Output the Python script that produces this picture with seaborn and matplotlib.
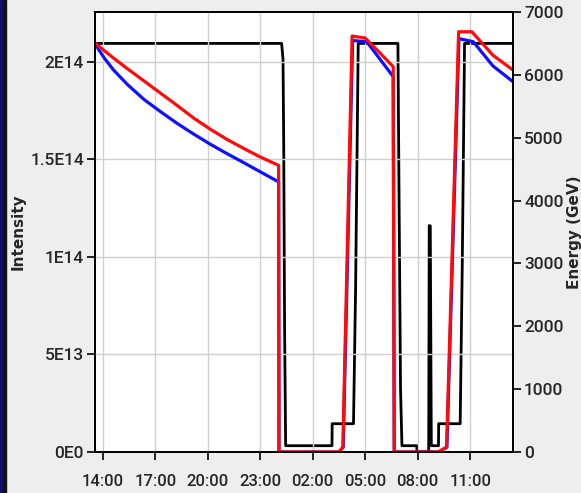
import numpy as np
import matplotlib
matplotlib.use("Agg")
import matplotlib.pyplot as plt
import seaborn as sns
from matplotlib.patches import Rectangle

# time axis in hours counted from midnight of the first day (24 -> 00:00 next day)
energy_time = [13.55, 24.22, 24.30, 24.34, 24.39, 24.45, 27.10, 27.11, 28.33, 28.45, 28.60,
               30.87, 30.95, 31.02, 31.10, 31.95, 31.96, 32.63, 32.66, 32.72, 32.78,
               33.19, 33.20, 34.43, 34.55, 34.68, 37.45]
energy_gev = [6500, 6500, 6250, 4900, 2000, 100, 100, 450, 450, 2600, 6500,
              6500, 3500, 1000, 100, 100, 0, 0, 3600, 3600, 100,
              100, 450, 450, 3000, 6500, 6500]

b1_time = [13.55, 14.1, 14.6, 15.4, 16.35, 17.3, 18.25, 19.2, 20.15, 21.1, 22.05,
           23.0, 24.05, 24.07, 27.50, 27.72, 28.25, 29.0, 29.86, 30.60, 30.66,
           33.18, 33.65, 34.34, 35.10, 36.30, 37.45]
b1_intensity = [2.097e14, 2.057e14, 2.021e14, 1.966e14, 1.903e14, 1.840e14, 1.777e14,
                1.712e14, 1.655e14, 1.603e14, 1.557e14, 1.513e14, 1.470e14, 0,
                0, 2.5e12, 2.133e14, 2.123e14, 2.045e14, 1.976e14, 0,
                0, 2.5e12, 2.155e14, 2.155e14, 2.035e14, 1.959e14]

b2_time = [13.55, 13.8, 14.1, 14.6, 15.4, 16.35, 17.3, 18.25, 19.2, 20.15, 21.1,
           22.05, 23.0, 24.05, 24.07, 27.50, 27.74, 28.28, 29.09, 30.60, 30.66,
           33.18, 33.67, 34.36, 35.18, 36.30, 37.45]
b2_intensity = [2.097e14, 2.058e14, 2.018e14, 1.960e14, 1.885e14, 1.808e14, 1.745e14,
                1.685e14, 1.630e14, 1.578e14, 1.530e14, 1.484e14, 1.437e14, 1.385e14,
                0, 0, 2.5e12, 2.11e14, 2.104e14, 1.925e14, 0,
                0, 2.5e12, 2.12e14, 2.104e14, 1.98e14, 1.899e14]

hour_ticks = [14, 17, 20, 23, 26, 29, 32, 35]
hour_labels = ["14:00", "17:00", "20:00", "23:00", "02:00", "05:00", "08:00", "11:00"]
int_ticks = [0, 5e13, 1e14, 1.5e14, 2e14]
int_labels = ["0E0", "5E13", "1E14", "1.5E14", "2E14"]
energy_ticks = [0, 1000, 2000, 3000, 4000, 5000, 6000, 7000]

sns.set_theme(style="ticks")
tick_font = ["Roboto", "DejaVu Sans"]
plt.rcParams["font.family"] = ["DejaVu Sans"]

fig = plt.figure(figsize=(5.81, 4.93), dpi=100, facecolor="#eeeeee")
ax = fig.add_axes([95 / 581, 1 - 452 / 493, 418 / 581, 440 / 493])
ax2 = ax.twinx()

# left edge border of the screenshot
fig.patches.append(Rectangle((0, 0), 3 / 581, 1, transform=fig.transFigure,
                             color="#10106a", zorder=5))
fig.patches.append(Rectangle((3 / 581, 0), 3 / 581, 1, transform=fig.transFigure,
                             color="#111111", zorder=5))

sns.lineplot(x=energy_time, y=energy_gev, ax=ax2, color="black", lw=2.0,
             estimator=None, sort=False)
sns.lineplot(x=b2_time, y=b2_intensity, ax=ax, color="#1010ff", lw=2.3,
             estimator=None, sort=False)
sns.lineplot(x=b1_time, y=b1_intensity, ax=ax, color="#ff0a0a", lw=2.3,
             estimator=None, sort=False)

# intensity lines above the energy line
ax.set_zorder(ax2.get_zorder() + 1)
ax.patch.set_visible(False)
ax2.patch.set_visible(True)
ax2.patch.set_facecolor("white")

ax.set_xlim(13.55, 37.45)
ax.set_ylim(0, 2.2564e14)
ax2.set_ylim(0, 7000)

ax.set_xticks(hour_ticks)
ax.set_xticklabels(hour_labels, family=tick_font, fontsize=12, fontweight="medium")
ax.set_yticks(int_ticks)
ax.set_yticklabels(int_labels, family=tick_font, fontsize=12.5, fontweight="medium")
ax2.set_yticks(energy_ticks)
ax2.set_yticklabels([str(v) for v in energy_ticks], family=tick_font, fontsize=12.5,
                    fontweight="medium")

ax2.grid(False)
ax.grid(True, color="#cfcfcf", lw=1.0)
for a in (ax, ax2):
    for s in a.spines.values():
        s.set_color("black")
        s.set_linewidth(1.3)
ax.tick_params(axis="both", length=6, width=1.2, color="black", pad=2)
ax2.tick_params(axis="y", length=6, width=1.2, color="black", pad=2)
ax.tick_params(axis="x", pad=10)

ax.set_xlabel("")
ax.set_ylabel("Intensity", fontsize=11, fontweight="bold")
ax2.set_ylabel("Energy (GeV)", fontsize=11, fontweight="bold", rotation=90)
ax.yaxis.set_label_coords(-0.165, 0.5)
ax2.yaxis.set_label_coords(1.128, 0.5)

fig.savefig("out.png", dpi=100, facecolor=fig.get_facecolor())
